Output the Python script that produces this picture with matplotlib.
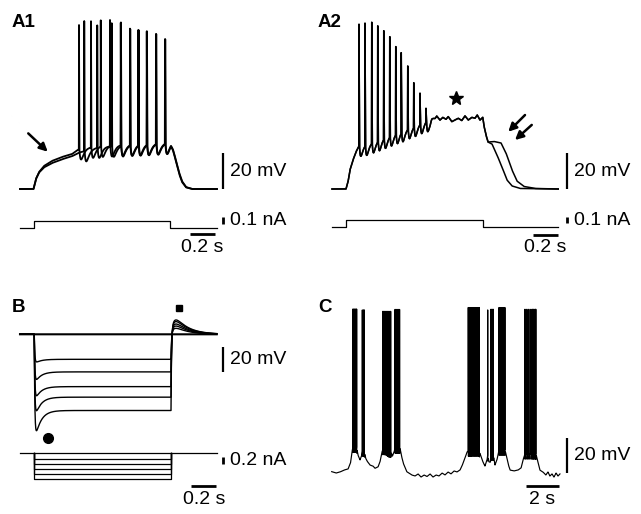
import numpy as np
import matplotlib.pyplot as plt

plt.rcParams['font.family'] = ['Liberation Sans', 'DejaVu Sans']

W, H = 641, 514
FS = 14

# ---------------- A1 : two sweeps, 0.1 nA step ----------------
a1_on, a1_off, a1_end, a1_amp = 0.108, 1.20, 1.576, 0.10
a1_env_t = [0, 0.108, 0.128, 0.152, 0.192, 0.256, 0.336, 0.416, 0.472, 0.64,
            0.96, 1.16, 1.208, 1.224, 1.248, 1.272, 1.296, 1.328, 1.376, 1.576]
a1_env_va = [-70, -70, -64.4, -60.6, -57.2, -54.4, -52.2, -50.6, -47.8, -46.1,
             -45.0, -44.4, -43.9, -47.2, -53.9, -60.6, -65.6, -68.9, -70, -70]
a1_env_vb = [-70, -70, -64.4, -60.9, -58.0, -55.6, -53.5, -51.8, -49.8, -46.6,
             -45.2, -44.6, -44.1, -47.6, -54.6, -61.3, -66.1, -69.1, -70, -70]
a1_spk_ta = [0.472, 0.568, 0.646, 0.720, 0.806, 0.880, 0.946, 1.014, 1.088, 1.160]
a1_spk_pa = [21.1, 23.2, 23.7, 23.9, 22.4, 19.1, 18.3, 17.6, 16.1, 13.2]
a1_spk_tb = [0.514, 0.618, 0.734, 0.808, 0.882, 0.949, 1.016, 1.090, 1.162]
a1_spk_pb = [23.3, 20.9, 22.1, 22.5, 18.9, 18.3, 17.5, 16.1, 13.2]

# ---------------- A2 : depolarisation block ----------------
a2_on, a2_off, a2_end, a2_amp = 0.112, 1.206, 1.81, 0.11
a2_env_t = [0, 0.112, 0.128, 0.144, 0.168, 0.192, 0.216, 0.304, 0.384, 0.464,
            0.544, 0.624, 0.704, 0.752, 0.784, 0.798, 0.824, 0.838, 0.864, 0.886,
            0.912, 0.930, 0.958, 0.984, 1.010, 1.038, 1.064, 1.090, 1.118, 1.144,
            1.162, 1.184, 1.206, 1.216, 1.232, 1.248]
a2_env_v = [-70, -70, -66.1, -59.4, -53.9, -49.4, -46.1, -44.4, -42.2, -40.0,
            -37.8, -35.6, -33.3, -31.7, -31.7, -29.8, -30.7, -29.4, -31.7, -30.2,
            -31.3, -29.8, -32.6, -31.7, -30.7, -32.0, -29.4, -31.7, -30.2, -30.7,
            -28.9, -31.7, -30.2, -35.0, -40.0, -43.9]
a2_tail1_t = [1.28, 1.32, 1.36, 1.40, 1.44, 1.504, 1.81]
a2_tail1_v = [-45.0, -51.1, -57.8, -65.0, -68.3, -69.7, -70]
a2_tail2_t = [1.296, 1.352, 1.392, 1.44, 1.48, 1.536, 1.624, 1.81]
a2_tail2_v = [-43.6, -44.4, -50.0, -59.4, -65.6, -68.6, -69.7, -70]
a2_spk_t = [0.216, 0.264, 0.318, 0.366, 0.414, 0.462, 0.510, 0.554, 0.606,
            0.654, 0.704, 0.752]
a2_spk_p = [21.5, 22.1, 22.6, 20.6, 17.9, 14.6, 9.1, 5.7, -1.7, -11.0, -16.8, -25.2]

# ---------------- B : hyperpolarising steps ----------------
b_on, b_off, b_end, b_rest = 0.114, 1.208, 1.574, -60
b_step_nA = [-0.18, -0.31, -0.45, -0.58, -0.73]
b_steady = [-19.7, -29.6, -41.2, -49.5, -60.0]
b_sag_peak = [-22, -36, -49, -61, -77]
b_rebound = [4.7, 6.5, 8.1, 10.0, 11.3]

# ---------------- C : spontaneous bursting ----------------
c_env_t = [0.00, 0.27, 0.51, 0.76, 1.01, 1.16, 1.25, 1.31, 1.54, 1.62, 1.75, 1.84,
           1.89, 2.01, 2.09, 2.18, 2.36, 2.55, 2.67, 2.86, 2.98, 3.10, 3.17, 3.35,
           3.54, 3.66, 3.75, 3.85, 3.91, 4.22, 4.31, 4.42, 4.63, 4.94, 5.14, 5.33,
           5.51, 5.70, 5.88, 6.07, 6.25, 6.44, 6.62, 6.81, 6.99, 7.18, 7.36, 7.55,
           7.73, 7.92, 8.04, 8.23, 8.35, 8.43, 9.11, 9.22, 9.34, 9.46, 9.59, 9.63,
           9.71, 9.80, 9.83, 9.98, 10.08, 10.20, 10.33, 10.70, 10.80, 10.91, 11.01,
           11.25, 11.50, 11.69, 11.81, 11.93, 12.61, 12.73, 12.85, 13.04, 13.22,
           13.35, 13.47, 13.60, 13.72, 13.85, 13.97, 14.09]
c_env_v = [-59.8, -60.6, -60.0, -58.9, -58.3, -54.9, -48.6, -45.7, -45.7, -50.3,
           -53.1, -50.9, -48.0, -48.0, -52.0, -53.7, -56.0, -56.6, -57.9, -57.1,
           -54.3, -48.6, -46.9, -47.4, -48.6, -48.6, -50.9, -48.6, -46.3, -46.3,
           -50.9, -55.0, -59.8, -61.7, -62.3, -61.1, -62.9, -61.7, -62.6, -61.1,
           -62.9, -61.7, -62.3, -60.6, -61.7, -60.0, -61.1, -59.4, -60.0, -58.9,
           -56.6, -52.0, -48.6, -48.0, -48.0, -51.4, -54.3, -56.6, -53.1, -50.3,
           -54.3, -54.3, -50.3, -50.3, -56.0, -53.1, -47.4, -47.4, -51.4, -56.0,
           -58.9, -59.4, -58.9, -57.7, -53.1, -49.7, -49.7, -54.3, -58.9, -60.0,
           -61.7, -60.0, -62.3, -61.1, -62.9, -60.6, -62.3, -61.1]
c_bursts = [[1.30, 1.35, 1.40, 1.45, 1.50, 1.54],
            [1.89, 1.97, 2.01],
            [3.15, 3.20, 3.26, 3.31, 3.38, 3.45, 3.52, 3.59, 3.64],
            [3.91, 3.96, 4.02, 4.08, 4.13, 4.19],
            [8.43, 8.48, 8.54, 8.60, 8.66, 8.73, 8.80, 8.87, 8.94, 9.01, 9.08, 9.11],
            [9.63],
            [9.83, 9.90, 9.97],
            [10.33, 10.39, 10.45, 10.51, 10.57, 10.63, 10.69],
            [11.93, 12.05, 12.17, 12.30, 12.40, 12.47, 12.55, 12.60]]
c_burst_peak = [33.1, 32.6, 31.8, 32.9, 34.0, 32.6, 33.0, 34.0, 33.0]


def make_axes(fig, box, t0_px, px_per_s, y0_val, y0_px, px_per_unit):
    left, top, right, bottom = box
    ax = fig.add_axes([left / W, 1 - bottom / H, (right - left) / W, (bottom - top) / H])
    ax.set_xlim((left - t0_px) / px_per_s, (right - t0_px) / px_per_s)
    ax.set_ylim(y0_val - (bottom - y0_px) / px_per_unit,
                y0_val + (y0_px - top) / px_per_unit)
    ax.axis('off')
    return ax


def trace(env_t, env_v, spk_t=(), spk_p=(), ahp=5.0, tp=0.01, dt=0.0002,
          rise=0.0015, fall=0.003):
    # slow envelope through the read points, spikes with a rounded AHP on top
    t = np.union1d(np.arange(env_t[0], env_t[-1], dt), spk_t)
    v = np.interp(t, env_t, env_v)
    for ts, pk in zip(spk_t, spk_p):
        amp = pk - np.interp(ts, t, v)
        up = (t >= ts - rise) & (t < ts)
        v[up] += amp * (t[up] - ts + rise) / rise
        dn = (t >= ts) & (t < ts + fall)
        v[dn] += amp * (1 - (t[dn] - ts) / fall)
        late = t >= ts + fall
        x = (t[late] - ts - fall) / tp
        v[late] -= ahp * x * np.exp(1 - x)
    return t, v


def norm_bump(x, tr, td):
    h = np.where(x > 0, np.exp(-x / td) - np.exp(-x / tr), 0.0)
    return h / h.max()


def step(on, off, end, amp):
    return [0, on, on, off, off, end], [0, 0, amp, amp, 0, 0]


def vbar(ax, x, y0, y1, label, lw=1.6):
    ax.plot([x, x], [y0, y1], color='k', lw=lw, solid_capstyle='butt', clip_on=False)
    ax.annotate(label, xy=(x, (y0 + y1) / 2), xytext=(5.5, 0), textcoords='offset points',
                ha='left', va='center', fontsize=FS)


def hbar(ax, x0, x1, y, label):
    ax.plot([x0, x1], [y, y], color='k', lw=2.0, solid_capstyle='butt', clip_on=False)
    ax.annotate(label, xy=((x0 + x1) / 2, y), xytext=(0, -9.5), textcoords='offset points',
                ha='center', va='center', fontsize=FS)


fig = plt.figure(figsize=(W / 100, H / 100), dpi=100)
kw = dict(color='k', lw=1.3, clip_on=False)

# ---- A1 ----
ax = make_axes(fig, (0, 0, 320, 200), 20, 125, -70, 189, 1.8)
ta, va = trace(a1_env_t, a1_env_va, a1_spk_ta, a1_spk_pa, ahp=6, tp=0.014)
tb, vb = trace(a1_env_t, a1_env_vb, a1_spk_tb, a1_spk_pb, ahp=6, tp=0.014)
ax.plot(tb, vb, **kw)
ax.plot(ta, va, **kw)
vbar(ax, 1.62, -70, -50, '20 mV')
ax.annotate('', xy=(0.222, -49.3), xytext=(0.066, -39.1),
            arrowprops=dict(arrowstyle='-|>', color='k', lw=1.8, mutation_scale=12,
                            shrinkA=0, shrinkB=0))
axi = make_axes(fig, (0, 200, 320, 260), 20, 125, 0, 227.7, 66)
axi.plot(*step(a1_on, a1_off, a1_end, a1_amp), color='k', lw=0.9)
vbar(axi, 1.62, 0.06, 0.155, '0.1 nA', lw=2.0)
hbar(axi, 1.36, 1.56, -0.10, '0.2 s')

# ---- A2 ----
ax = make_axes(fig, (320, 0, 641, 200), 332, 125, -70, 189, 1.8)
for tt, vv in [(a2_tail1_t, a2_tail1_v), (a2_tail2_t, a2_tail2_v)]:
    t, v = trace(a2_env_t + tt, a2_env_v + vv, a2_spk_t, a2_spk_p, ahp=6, tp=0.011,
                 fall=0.004)
    ax.plot(t, v, color='k', lw=1.1, clip_on=False)
vbar(ax, 1.878, -70, -50, '20 mV')
ax.plot(0.992, -19.6, marker='*', ms=10, color='k')
for (x0, y0, x1, y1) in [(1.544, -28.9, 1.410, -38.2), (1.598, -34.4, 1.464, -42.8)]:
    ax.annotate('', xy=(x1, y1), xytext=(x0, y0),
                arrowprops=dict(arrowstyle='-|>', color='k', lw=1.8, mutation_scale=12,
                                shrinkA=0, shrinkB=0))
axi = make_axes(fig, (320, 200, 641, 260), 332, 125, 0, 227.3, 66)
axi.plot(*step(a2_on, a2_off, a2_end, a2_amp), color='k', lw=0.9)
vbar(axi, 1.878, 0.06, 0.155, '0.1 nA', lw=2.0)
hbar(axi, 1.608, 1.808, -0.11, '0.2 s')

# ---- B ----
ax = make_axes(fig, (0, 260, 320, 445), 20, 125, b_rest, 334.3, 1.27)
t = np.arange(0, b_end, 0.0005)
ax.plot(t, np.full_like(t, b_rest), color='k', lw=1.5, clip_on=False)
for ss, pk, rb in zip(b_steady, b_sag_peak, b_rebound):
    v = np.full_like(t, float(b_rest))
    on = (t >= b_on) & (t < b_off)
    d = t[on] - b_on
    v[on] += ss * (1 - np.exp(-d / 0.004)) + (pk - ss) * norm_bump(d, 0.006, 0.045)
    after = t >= b_off
    d2 = t[after] - b_off
    v_end = v[on][-1] - b_rest
    v[after] += v_end * np.exp(-d2 / 0.004) + rb * norm_bump(d2, 0.02, 0.1)
    ax.plot(t, v, color='k', lw=1.0, clip_on=False)
vbar(ax, 1.62, -90, -70, '20 mV')
ax.plot(1.272, -39.1, marker='s', ms=5, color='k')
ax.plot(0.222, -141.9, marker='o', ms=7, color='k')
axi = make_axes(fig, (0, 445, 320, 514), 20, 125, 0, 452.7, 36.7)
axi.plot([0, b_end], [0, 0], color='k', lw=0.9)
for amp in b_step_nA:
    axi.plot([b_on, b_on, b_off, b_off], [0, amp, amp, 0], color='k', lw=0.9)
vbar(axi, 1.62, -0.31, -0.11, '0.2 nA', lw=2.0)
hbar(axi, 1.37, 1.57, -0.907, '0.2 s')

# ---- C ----
ax = make_axes(fig, (320, 260, 641, 514), 331.7, 16.2, -60, 472, 1.75)
c_t = [s for b in c_bursts for s in b]
c_p = [p for b, p in zip(c_bursts, c_burst_peak) for _ in b]
t, v = trace(c_env_t, c_env_v, c_t, c_p, ahp=3, tp=0.006, dt=0.0005, rise=0.002,
             fall=0.003)
ax.plot(t, v, color='k', lw=0.85, clip_on=False)
vbar(ax, 14.5, -60.7, -40.7, '20 mV')
hbar(ax, 12.0, 14.0, -68, '2 s')

# panel letters
for lab, x, y in [('A1', 11.5, 26.7), ('A2', 318, 26.7), ('B', 11.5, 311.7), ('C', 318, 311.7)]:
    fig.text(x / W, 1 - y / H, lab, fontsize=13.5, fontweight='bold',
             ha='left', va='baseline')

fig.savefig('out.png', dpi=100)
